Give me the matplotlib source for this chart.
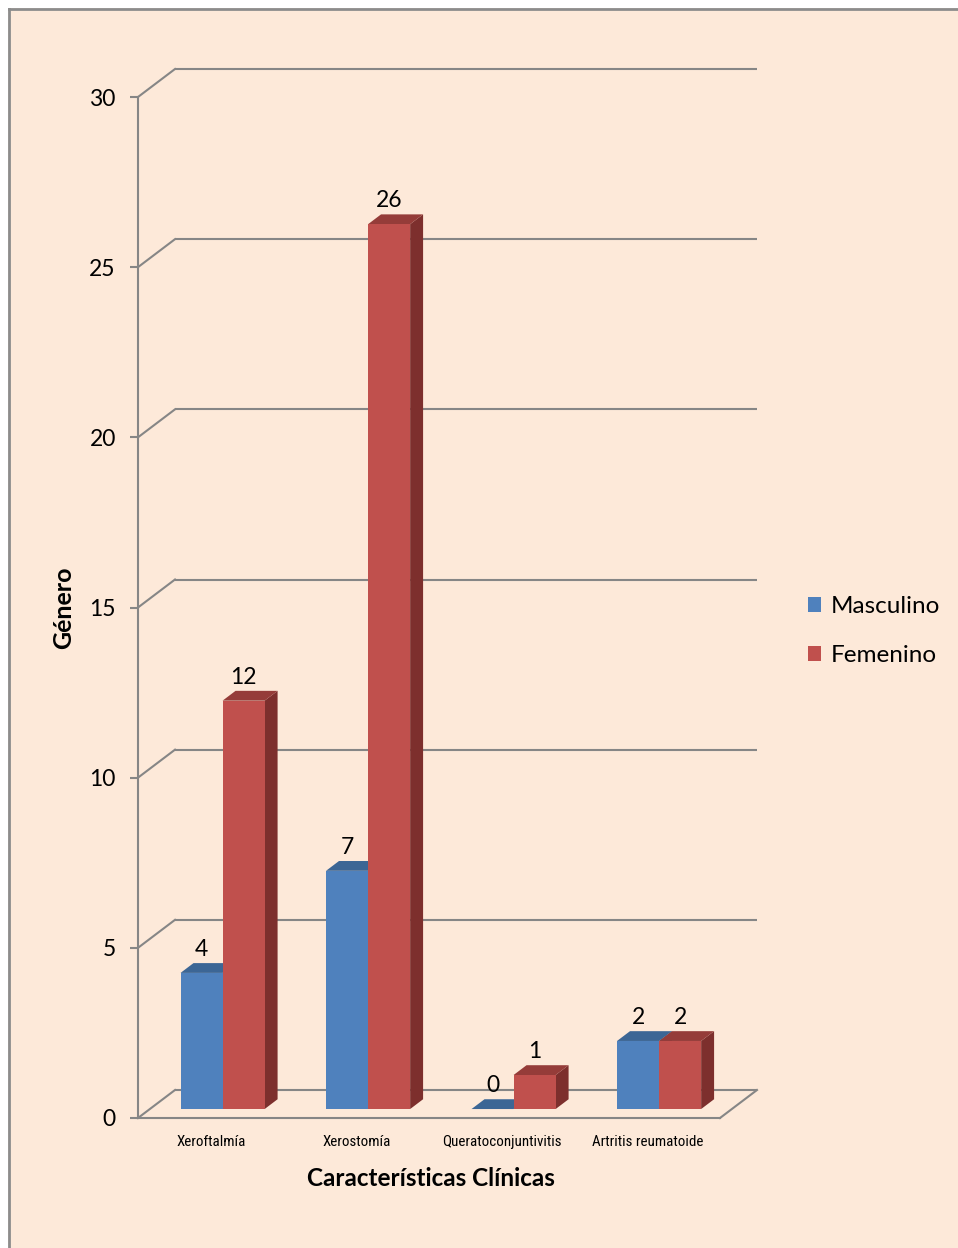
import matplotlib
matplotlib.use("Agg")
import matplotlib.pyplot as plt
from matplotlib import font_manager
from matplotlib.patches import Polygon, Rectangle, Patch
from matplotlib.lines import Line2D

# ---- data ----
categories = ["Xeroftalmía", "Xerostomía", "Queratoconjuntivitis", "Artritis reumatoide"]
series_names = ["Masculino", "Femenino"]
masculino = [4, 7, 0, 2]
femenino = [12, 26, 1, 2]
y_ticks = [0, 5, 10, 15, 20, 25, 30]

# ---- style ----
BG = "#FDE9D9"
GRID = "#868686"
FACE = {"Masculino": ("#4F81BD", "#3C6695", "#385D8A"),
        "Femenino": ("#C0504D", "#953C39", "#7D2F2D")}
MAIN_FONT = ["Lato", "DejaVu Sans"]


def narrow_font():
    """Pick a narrow face for the category labels, with a size that fits."""
    candidates = [("Roboto Condensed", "normal", 10.8),
                  ("Roboto", "condensed", 10.8),
                  ("Liberation Sans Narrow", "normal", 11.0),
                  ("Open Sans Condensed", "normal", 11.0),
                  ("Open Sans", "condensed", 10.5),
                  ("Noto Sans", "condensed", 10.5),
                  ("DejaVu Sans", "condensed", 9.5)]
    for fam, stretch, size in candidates:
        try:
            path = font_manager.findfont(font_manager.FontProperties(family=fam, stretch=stretch),
                                         fallback_to_default=False)
        except Exception:
            continue
        name = path.lower()
        if "narrow" in name or "cond" in name:
            return fam, stretch, size
    return "Liberation Sans", "normal", 9.0


NARROW_FAMILY, NARROW_STRETCH, NARROW_SIZE = narrow_font()

W, H = 958, 1248
fig = plt.figure(figsize=(W / 100, H / 100), dpi=100)
fig.patch.set_facecolor("white")

# chart area background with top/left border
fig.patches.append(Rectangle((8 / W, 0), 1 - 8 / W, 1 - 8 / H, transform=fig.transFigure,
                             facecolor=BG, edgecolor="none", zorder=-10))
fig.lines.append(Line2D([8.5 / W, 8.5 / W], [0, 1 - 8.5 / H], transform=fig.transFigure,
                        color="#8C8C8C", lw=2.0, zorder=-5))
fig.lines.append(Line2D([8.5 / W, 1], [1 - 8.5 / H, 1 - 8.5 / H], transform=fig.transFigure,
                        color="#8C8C8C", lw=2.0, zorder=-5))

# front plane of the plot
left, right, top, bottom = 138, 720, 97, 1118
ax = fig.add_axes([left / W, 1 - bottom / H, (right - left) / W, (bottom - top) / H])
ax.set_facecolor("none")
n = len(categories)
ax.set_xlim(0, n)
ax.set_ylim(0, y_ticks[-1])

# depth offset of the back wall (in data units)
px_x = (right - left) / n
px_y = (bottom - top) / y_ticks[-1]
DX = 37 / px_x
DY = 28 / px_y

# back wall gridlines and left-wall diagonals
for t in y_ticks:
    ax.plot([DX, n + DX], [t + DY, t + DY], color=GRID, lw=1.5, clip_on=False, zorder=1,
            solid_capstyle="butt")
    ax.plot([0, DX], [t, t + DY], color=GRID, lw=1.5, clip_on=False, zorder=1)
# floor right edge
ax.plot([n, n + DX], [0, DY], color=GRID, lw=1.5, clip_on=False, zorder=1)

# 3D-looking bars
bar_w = 0.289
f0, f1 = 0.32, 0.67


def draw_bar(xl, v, colors, z):
    front, topc, side = colors
    xr = xl + bar_w
    a0x, a0y = f0 * DX, f0 * DY
    a1x, a1y = f1 * DX, f1 * DY
    ax.add_patch(Polygon([(xr + a0x, a0y), (xr + a1x, a1y), (xr + a1x, v + a1y), (xr + a0x, v + a0y)],
                         closed=True, facecolor=side, edgecolor="none", zorder=z, clip_on=False))
    ax.add_patch(Polygon([(xl + a0x, v + a0y), (xr + a0x, v + a0y), (xr + a1x, v + a1y), (xl + a1x, v + a1y)],
                         closed=True, facecolor=topc, edgecolor="none", zorder=z, clip_on=False))
    if v > 0:
        ax.add_patch(Polygon([(xl + a0x, a0y), (xr + a0x, a0y), (xr + a0x, v + a0y), (xl + a0x, v + a0y)],
                             closed=True, facecolor=front, edgecolor="none", zorder=z + 0.1, clip_on=False))
    ax.annotate(str(v), xy=(xl + bar_w / 2 + a0x, v + a0y), xytext=(0, 17),
                textcoords="offset points", ha="center", va="center",
                fontsize=16.5, family=MAIN_FONT, color="black", zorder=10)


for i in range(n):
    for k, (name, vals) in enumerate(zip(series_names, [masculino, femenino])):
        xl = i + 0.5 - bar_w + k * bar_w
        draw_bar(xl, vals[i], FACE[name], 3 + k)

# axes: front vertical line, floor front edge, ticks
for s in ["top", "right"]:
    ax.spines[s].set_visible(False)
ax.spines["left"].set_color(GRID)
ax.spines["left"].set_linewidth(1.5)
ax.spines["bottom"].set_color(GRID)
ax.spines["bottom"].set_linewidth(1.5)

ax.set_yticks(y_ticks)
ax.set_yticklabels([str(t) for t in y_ticks], fontsize=16.5, family=MAIN_FONT)
ax.tick_params(axis="y", length=6, width=1.5, color=GRID, pad=10)
ax.set_xticks([i + 0.5 for i in range(n)])
ax.set_xticklabels(categories, fontsize=NARROW_SIZE, family=NARROW_FAMILY,
                   fontstretch=NARROW_STRETCH)
ax.tick_params(axis="x", length=0, pad=12)

ax.set_xlabel("Características Clínicas", fontsize=17.5, fontweight="bold", family=MAIN_FONT)
ax.xaxis.set_label_coords((431 - left) / (right - left), (bottom - 1178) / (bottom - top))
ax.xaxis.label.set_va("center")
ax.set_ylabel("Género", fontsize=18, fontweight="bold", family=MAIN_FONT)
ax.yaxis.set_label_coords((64 - left) / (right - left), (bottom - 608) / (bottom - top))
ax.yaxis.label.set_va("center")

handles = [Patch(facecolor=FACE[nm][0], edgecolor="none", label=nm) for nm in series_names]
fig.legend(handles=handles, loc="center left", bbox_to_anchor=(808 / W, 1 - 631 / H),
           frameon=False, prop={"family": MAIN_FONT, "size": 17.5},
           handlelength=0.55, handleheight=0.55, handletextpad=0.4, labelspacing=1.15,
           borderpad=0, borderaxespad=0)

fig.savefig("out.png", dpi=100, facecolor=fig.get_facecolor())
